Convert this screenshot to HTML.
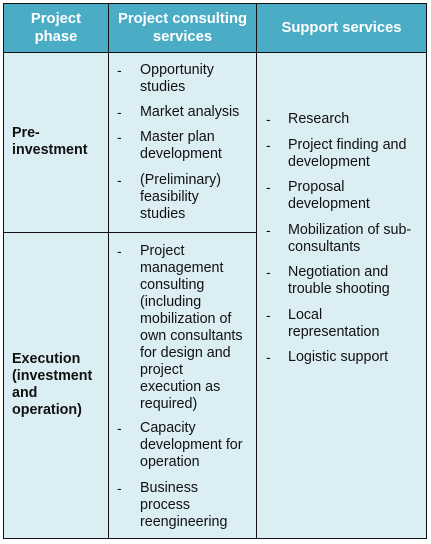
<!DOCTYPE html>
<html><head><meta charset="utf-8"><style>
body{margin:0;width:431px;height:544px;background:#fff;position:relative;overflow:hidden;font-family:"Liberation Sans",Arial,sans-serif;}
.box{position:absolute;box-sizing:border-box;}
.t{position:absolute;font-size:14.3px;line-height:17px;color:#111;white-space:nowrap;}
.h{position:absolute;font-size:14.8px;line-height:18px;color:#fff;font-weight:bold;text-align:center;}
.b{font-weight:bold;}
.d{position:absolute;font-size:14px;line-height:17px;color:#111;}
</style></head><body>
<div class="box" style="left:3px;top:3px;width:424px;height:536px;background:#dbeef4;border:1.5px solid #111;"></div>
<div class="box" style="left:4px;top:4px;width:422px;height:49px;background:#4bacc6;border-bottom:1px solid #111;"></div>
<div class="box" style="left:108px;top:4px;width:1px;height:534px;background:#111;"></div>
<div class="box" style="left:256px;top:4px;width:1px;height:534px;background:#111;"></div>
<div class="box" style="left:4px;top:232px;width:253px;height:1px;background:#111;"></div>

<div class="h" style="left:4px;width:104px;top:10px;">Project<br>phase</div>
<div class="h" style="left:109px;width:147px;top:10px;">Project consulting<br>services</div>
<div class="h" style="left:257px;width:169px;top:19px;">Support services</div>

<div class="t b" style="left:12px;top:125px;">Pre-<br>investment</div>
<div class="t b" style="left:12px;top:351px;">Execution<br>(investment<br>and<br>operation)</div>

<div>
<div class="d" style="left:117px;top:62px;">-</div><div class="t" style="left:140px;top:62px;">Opportunity<br>studies</div>
<div class="d" style="left:117px;top:104px;">-</div><div class="t" style="left:140px;top:104px;">Market analysis</div>
<div class="d" style="left:117px;top:129px;">-</div><div class="t" style="left:140px;top:129px;">Master plan<br>development</div>
<div class="d" style="left:117px;top:172px;">-</div><div class="t" style="left:140px;top:172px;">(Preliminary)<br>feasibility<br>studies</div>
<div class="d" style="left:117px;top:243px;">-</div><div class="t" style="left:140px;top:243px;">Project<br>management<br>consulting<br>(including<br>mobilization of<br>own consultants<br>for design and<br>project<br>execution as<br>required)</div>
<div class="d" style="left:117px;top:420px;">-</div><div class="t" style="left:140px;top:420px;">Capacity<br>development for<br>operation</div>
<div class="d" style="left:117px;top:480px;">-</div><div class="t" style="left:140px;top:480px;">Business<br>process<br>reengineering</div>
</div>

<div>
<div class="d" style="left:266px;top:111px;">-</div><div class="t" style="left:288px;top:111px;">Research</div>
<div class="d" style="left:266px;top:137px;">-</div><div class="t" style="left:288px;top:137px;">Project finding and<br>development</div>
<div class="d" style="left:266px;top:179px;">-</div><div class="t" style="left:288px;top:179px;">Proposal<br>development</div>
<div class="d" style="left:266px;top:222px;">-</div><div class="t" style="left:288px;top:222px;">Mobilization of sub-<br>consultants</div>
<div class="d" style="left:266px;top:264px;">-</div><div class="t" style="left:288px;top:264px;">Negotiation and<br>trouble shooting</div>
<div class="d" style="left:266px;top:307px;">-</div><div class="t" style="left:288px;top:307px;">Local<br>representation</div>
<div class="d" style="left:266px;top:349px;">-</div><div class="t" style="left:288px;top:349px;">Logistic support</div>
</div>
</body></html>
